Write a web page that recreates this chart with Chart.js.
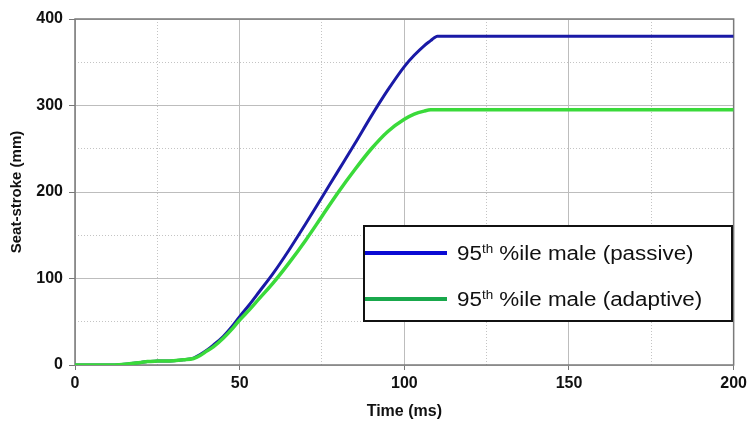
<!DOCTYPE html>
<html>
<head>
<meta charset="utf-8">
<script src="https://cdn.jsdelivr.net/npm/chart.js@4"></script>
<style>
  html, body { margin: 0; padding: 0; background: #ffffff; }
  #wrap { width: 751px; height: 423px; position: relative; }
</style>
</head>
<body>
<div id="wrap"><canvas id="c" width="751" height="423"></canvas></div>
<script>
// ---- data ----
const timeMs   = [0, 5, 10, 15, 20, 22, 25, 30, 33, 36, 38, 40, 42, 45, 48, 50, 53, 56, 60, 65, 70, 75, 80, 85, 90, 95, 100, 103, 106, 108, 109, 110, 111, 150, 200];
const passive  = [0, 0, 0, 1, 3, 4, 4.5, 5, 6, 8, 12, 17, 23, 33, 46, 56, 70, 85, 105, 133, 163, 194, 225, 256, 288, 318, 345, 358, 369, 375, 378, 380, 380, 380, 380];
const adaptive = [0, 0, 0, 1, 3, 4, 4.5, 5, 6, 7.5, 11, 16, 21, 31, 43, 52, 64, 77, 94, 118, 144, 172, 200, 226, 250, 270, 284, 290, 293.5, 295, 295, 295, 295, 295, 295];
const xTickLabels = [0, 50, 100, 150, 200];
const yTickLabels = [0, 100, 200, 300, 400];
const seriesNames = ['95th %ile male (passive)', '95th %ile male (adaptive)'];

const toXY = (ys) => timeMs.map((t, i) => ({ x: t, y: ys[i] }));

const FONT = "'Liberation Sans', Arial, sans-serif";

const frameAndLegend = {
  id: 'frameAndLegend',
  beforeDatasetsDraw(chart) {
    const { ctx, chartArea: a } = chart;
    ctx.save();
    ctx.strokeStyle = '#7a7a7a';
    ctx.lineWidth = 1.5;
    ctx.strokeRect(a.left, a.top, a.right - a.left, a.bottom - a.top);
    ctx.restore();
  },
  afterDraw(chart) {
    const { ctx } = chart;
    const box = { x: 364, y: 226, w: 368, h: 95 };
    ctx.save();
    ctx.fillStyle = '#ffffff';
    ctx.fillRect(box.x, box.y, box.w, box.h);
    ctx.strokeStyle = '#111111';
    ctx.lineWidth = 2;
    ctx.strokeRect(box.x, box.y, box.w, box.h);
    const rows = [
      { y: 253, color: '#0a0ad4', name: seriesNames[0] },
      { y: 299, color: '#19a84c', name: seriesNames[1] }
    ];
    rows.forEach(r => {
      ctx.strokeStyle = r.color;
      ctx.lineWidth = 4;
      ctx.beginPath();
      ctx.moveTo(box.x + 1, r.y);
      ctx.lineTo(447, r.y);
      ctx.stroke();
      const m = r.name.match(/^(\d+)(th)(.*)$/);
      ctx.save();
      ctx.translate(457, r.y + 7);
      ctx.scale(1.12, 1);
      ctx.fillStyle = '#111111';
      ctx.textBaseline = 'alphabetic';
      ctx.font = '20px ' + FONT;
      ctx.fillText(m[1], 0, 0);
      let x = ctx.measureText(m[1]).width;
      ctx.font = '12px ' + FONT;
      ctx.fillText(m[2], x, -7);
      x += ctx.measureText(m[2]).width;
      ctx.font = '20px ' + FONT;
      ctx.fillText(m[3], x, 0);
      ctx.restore();
    });
    ctx.restore();
  }
};

const isMajor = (v, step) => Math.abs(v % step) < 1e-6;

new Chart(document.getElementById('c'), {
  type: 'line',
  data: {
    datasets: [
      {
        label: seriesNames[0],
        data: toXY(passive),
        borderColor: '#1a1aa6',
        borderWidth: 3,
        pointRadius: 0,
        cubicInterpolationMode: 'monotone',
        order: 1
      },
      {
        label: seriesNames[1],
        data: toXY(adaptive),
        borderColor: '#3ada3a',
        borderWidth: 3.5,
        pointRadius: 0,
        cubicInterpolationMode: 'monotone',
        order: 0
      }
    ]
  },
  options: {
    responsive: false,
    animation: false,
    devicePixelRatio: 1,
    layout: { padding: { top: 19, right: 14, left: 0, bottom: 0 } },
    plugins: {
      legend: { display: false },
      tooltip: { enabled: false }
    },
    scales: {
      x: {
        type: 'linear',
        min: 0,
        max: 200,
        afterFit(scale) { scale.height = 58; },
        ticks: {
          stepSize: 25,
          autoSkip: false,
          maxRotation: 0,
          padding: 4,
          color: '#111111',
          font: { family: FONT, size: 16, weight: 'bold' },
          callback: (v) => xTickLabels.includes(v) ? String(v) : ''
        },
        grid: {
          color: (c) => (c.tick && isMajor(c.tick.value, 50)) ? '#bdbdbd' : '#c4c4c4',
          lineWidth: 1,
          tickLength: 5,
          tickColor: (c) => (c.tick && isMajor(c.tick.value, 50)) ? '#777777' : 'rgba(0,0,0,0)'
        },
        border: {
          display: false,
          dash: (c) => (c.tick && !isMajor(c.tick.value, 50)) ? [1, 2] : []
        },
        title: {
          display: true,
          text: 'Time (ms)',
          color: '#111111',
          font: { family: FONT, size: 16, weight: 'bold' },
          padding: { top: 2, bottom: 2 }
        }
      },
      y: {
        type: 'linear',
        min: 0,
        max: 400,
        afterFit(scale) { scale.width = 75; },
        ticks: {
          stepSize: 50,
          autoSkip: false,
          padding: 6,
          color: '#111111',
          font: { family: FONT, size: 16, weight: 'bold' },
          callback: (v) => yTickLabels.includes(v) ? String(v) : ''
        },
        grid: {
          color: (c) => (c.tick && isMajor(c.tick.value, 100)) ? '#bdbdbd' : '#c4c4c4',
          lineWidth: 1,
          tickLength: 6,
          tickColor: (c) => (c.tick && isMajor(c.tick.value, 100)) ? '#777777' : 'rgba(0,0,0,0)'
        },
        border: {
          display: false,
          dash: (c) => (c.tick && !isMajor(c.tick.value, 100)) ? [1, 2] : []
        },
        title: {
          display: true,
          text: 'Seat-stroke (mm)',
          color: '#111111',
          font: { family: FONT, size: 15, weight: 'bold' },
          padding: { top: 8, bottom: 0 }
        }
      }
    }
  },
  plugins: [frameAndLegend]
});
</script>
</body>
</html>
